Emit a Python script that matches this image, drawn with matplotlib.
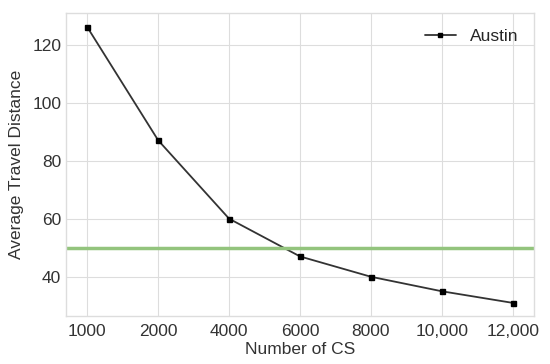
import numpy as np
import matplotlib.pyplot as plt

plt.style.use('seaborn-v0_8-whitegrid')
plt.rcParams['font.family'] = ['Liberation Sans', 'DejaVu Sans']

cs_labels = ['1000', '2000', '4000', '6000', '8000', '10,000', '12,000']
austin = [126, 87, 60, 47, 40, 35, 31]
threshold = 50

fig, ax = plt.subplots(figsize=(5.5, 3.64), dpi=100)
x = np.arange(len(cs_labels))
ax.plot(x, austin, color='#333333', lw=1.3, marker='s', ms=3.6,
        mfc='black', mec='black', label='Austin')
ax.axhline(threshold, color='#93c47d', lw=2.5)

ax.set_xticks(x)
ax.set_xticklabels(cs_labels)
ax.set_ylim(26.5, 130.7)
ax.set_yticks([40, 60, 80, 100, 120])
ax.tick_params(labelsize=12.5, colors='#333333')
ax.tick_params(axis='x', pad=6)
ax.set_xlabel('Number of CS', fontsize=12.5, color='#333333', labelpad=2)
ax.set_ylabel('Average Travel Distance', fontsize=12.5, color='#333333', labelpad=6)
for s in ax.spines.values():
    s.set_visible(True)
    s.set_color('#dddddd')
ax.grid(color='#dddddd', lw=0.8)
ax.legend(loc='upper right', fontsize=12.5, frameon=False, handlelength=1.8,
          markerscale=0.8)

fig.subplots_adjust(left=0.12, right=0.971, top=0.963, bottom=0.132)
fig.savefig('out.png')
